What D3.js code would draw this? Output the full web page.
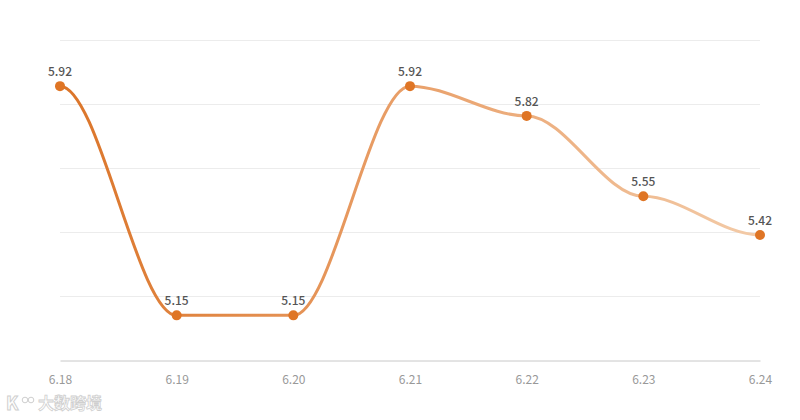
<!DOCTYPE html>
<html>
<head>
<meta charset="utf-8">
<script src="https://cdn.jsdelivr.net/npm/d3@7"></script>
<style>
  body { margin: 0; background: #fff; }
  svg text { font-family: "Noto Sans CJK SC", "Noto Sans", sans-serif; }
</style>
</head>
<body>
<svg id="chart"></svg>
<script>
const dates = ["6.18", "6.19", "6.20", "6.21", "6.22", "6.23", "6.24"];
const values = [5.92, 5.15, 5.15, 5.92, 5.82, 5.55, 5.42];
const gridValues = [5.0, 5.215, 5.43, 5.645, 5.86, 6.075];

const W = 800, H = 420;
const margin = { top: 40, right: 40, bottom: 60, left: 60 };

const svg = d3.select("#chart").attr("width", W).attr("height", H);

const x = d3.scalePoint()
    .domain(dates)
    .range([margin.left, W - margin.right]);

const y = d3.scaleLinear()
    .domain([5.0, 6.075])
    .range([H - margin.bottom, margin.top]);

// smooth curve, flat at each point, control points at a third of the gap
function curveFlatX(context) {
    let prev = null;
    return {
        areaStart() {}, areaEnd() {},
        lineStart() { prev = null; },
        lineEnd() {},
        point(px, py) {
            if (!prev) context.moveTo(px, py);
            else {
                const dx = (px - prev[0]) / 3;
                context.bezierCurveTo(prev[0] + dx, prev[1], px - dx, py, px, py);
            }
            prev = [px, py];
        }
    };
}

// gradient along the line
const defs = svg.append("defs");
const grad = defs.append("linearGradient")
    .attr("id", "lineGrad")
    .attr("gradientUnits", "userSpaceOnUse")
    .attr("x1", margin.left).attr("x2", W - margin.right)
    .attr("y1", 0).attr("y2", 0);
grad.append("stop").attr("offset", "0%").attr("stop-color", "#db7428");
grad.append("stop").attr("offset", "50%").attr("stop-color", "#e9a06a");
grad.append("stop").attr("offset", "100%").attr("stop-color", "#f3cba8");

// grid lines
svg.append("g")
    .selectAll("line")
    .data(gridValues.slice(1))
    .enter().append("line")
    .attr("x1", margin.left)
    .attr("x2", W - margin.right)
    .attr("y1", d => Math.round(y(d)) + 0.5)
    .attr("y2", d => Math.round(y(d)) + 0.5)
    .attr("stroke", "#ececec")
    .attr("stroke-width", 1);

// x axis
const xAxis = svg.append("g")
    .attr("transform", `translate(0,${Math.round(y(5.0)) + 0.5})`)
    .call(d3.axisBottom(x).tickSize(0).tickPadding(15));
xAxis.select(".domain").attr("stroke", "#c8c8c8");
xAxis.selectAll("text")
    .attr("fill", "#999")
    .style("font-size", "12px");

const line = d3.line()
    .x((d, i) => x(dates[i]))
    .y(d => y(d))
    .curve(curveFlatX);

svg.append("path")
    .datum(values)
    .attr("fill", "none")
    .attr("stroke", "url(#lineGrad)")
    .attr("stroke-width", 3)
    .attr("d", line);

// points
svg.selectAll(".dot")
    .data(values)
    .enter().append("circle")
    .attr("class", "dot")
    .attr("cx", (d, i) => x(dates[i]))
    .attr("cy", d => y(d))
    .attr("r", 5)
    .attr("fill", "#df7525");

// value labels
svg.selectAll(".lbl")
    .data(values)
    .enter().append("text")
    .attr("class", "lbl")
    .attr("x", (d, i) => x(dates[i]))
    .attr("y", d => y(d) - 10)
    .attr("text-anchor", "middle")
    .attr("fill", "#555")
    .style("font-size", "12px")
    .style("font-weight", "500")
    .text(d => d.toFixed(2));

// watermark
const wm = svg.append("g").attr("transform", "translate(6,410)");
wm.append("text")
    .attr("x", 0).attr("y", 0)
    .attr("fill", "#fff").attr("stroke", "#cfcfcf").attr("stroke-width", 1)
    .style("font-size", "18px").style("font-weight", "bold")
    .text("K");
wm.append("circle").attr("cx", 19).attr("cy", -10).attr("r", 2.8)
    .attr("fill", "none").attr("stroke", "#cfcfcf");
wm.append("circle").attr("cx", 25).attr("cy", -10).attr("r", 2.8)
    .attr("fill", "none").attr("stroke", "#cfcfcf");
wm.append("text")
    .attr("x", 32).attr("y", -1)
    .attr("fill", "#fff").attr("stroke", "#cfcfcf").attr("stroke-width", 0.8)
    .style("font-size", "16px").style("font-weight", "bold")
    .text("大数跨境");
</script>
</body>
</html>
